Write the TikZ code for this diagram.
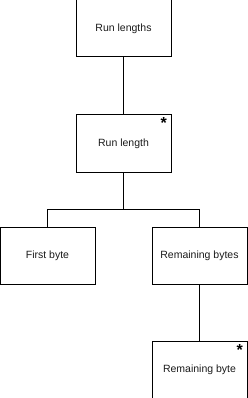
\documentclass[tikz,border=0pt]{standalone}
\usepackage{fontspec}
\setmainfont{Liberation Sans}
\usepackage{xcolor}
\definecolor{cMain}{HTML}{000000}
\definecolor{cText}{HTML}{1A1A1A}
\usepackage{tikz}
\usetikzlibrary{positioning,calc}
\tikzset{
  node-box/.style={draw=cMain,line width=1pt,minimum width=95pt,
    minimum height=57pt,inner sep=0pt,align=center,text=cText,
    font=\fontsize{10.5}{12}\selectfont},
  node-many/.style={font=\fontsize{16}{16}\selectfont\bfseries,
    inner sep=0pt,anchor=north east},
  link/.style={draw=cMain,line width=0.9pt},
}
\begin{document}
\begin{tikzpicture}[x=1pt,y=1pt]
  \useasboundingbox (0,0) rectangle (247,-398);
  \node[node-box] (runs) at (123.5,-28.5) {Run lengths};
  \node[node-box,below=57pt of runs] (run) {Run length};
  \node[node-many] (run-star) at ($(run.north east)+(-4.5,-3)$) {*};
  \node[node-box] (first) at (47.5,-256) {First byte};
  \node[node-box] (rest) at (199.5,-256) {Remaining bytes};
  \node[node-box,below=56pt of rest] (byte) {Remaining byte};
  \node[node-many] (byte-star) at ($(byte.north east)+(-4.5,-3)$) {*};
  % connectors
  \coordinate (fork) at ($(run.south)+(0,-37)$);
  \draw[link] (runs) -- (run);
  \draw[link] (run.south) -- (fork) -| (first.north);
  \draw[link] (fork) -| (rest.north);
  \draw[link] (rest) -- (byte);
\end{tikzpicture}
\end{document}
